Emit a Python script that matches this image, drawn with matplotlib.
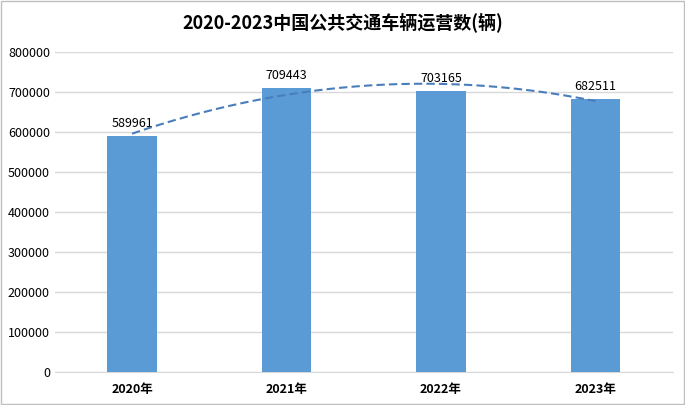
import numpy as np
import matplotlib.pyplot as plt
from matplotlib.patches import Rectangle

plt.rcParams['font.family'] = ['Noto Sans CJK SC', 'DejaVu Sans']

years = ['2020年', '2021年', '2022年', '2023年']
vehicles = [589961, 709443, 703165, 682511]
title = '2020-2023中国公共交通车辆运营数(辆)'

fig = plt.figure(figsize=(6.85, 4.05), dpi=100)
ax = fig.add_axes([0.080, 0.0815, 0.902, 0.7905])

x = np.arange(len(years))
ax.bar(x, vehicles, width=0.32, color='#5B9BD5', zorder=3)
for xi, v in zip(x, vehicles):
    ax.text(xi, v + 14000, str(v), ha='center', va='bottom', fontsize=9, color='#000000', zorder=4)

# polynomial trendline (order 2), like the excel one
coef = np.polyfit(x, vehicles, 2)
xs = np.linspace(x[0], x[-1], 200)
ax.plot(xs, np.polyval(coef, xs), '--', color='#4A7EBB', linewidth=1.5, dashes=(4, 2), zorder=4)

ax.set_xlim(-0.5, len(years) - 0.5)
ax.set_ylim(0, 800000)
ax.set_yticks(np.arange(0, 800001, 100000))
ax.set_yticklabels([str(t) for t in range(0, 800001, 100000)])
ax.set_xticks(x)
ax.set_xticklabels(years, fontweight='bold')
ax.tick_params(axis='both', length=0, labelsize=9)
ax.tick_params(axis='x', pad=8)
ax.grid(axis='y', color='#D9D9D9', linewidth=1, zorder=0)
for s in ['top', 'right', 'left']:
    ax.spines[s].set_visible(False)
ax.spines['bottom'].set_color('#D9D9D9')

fig.text(0.5, 0.945, title, ha='center', va='center', fontsize=13, fontweight='bold')
fig.patches.append(Rectangle((0.002, 0.003), 0.996, 0.994, transform=fig.transFigure,
                             fill=False, edgecolor='#BFBFBF', linewidth=1))

fig.savefig('out.png', dpi=100)
